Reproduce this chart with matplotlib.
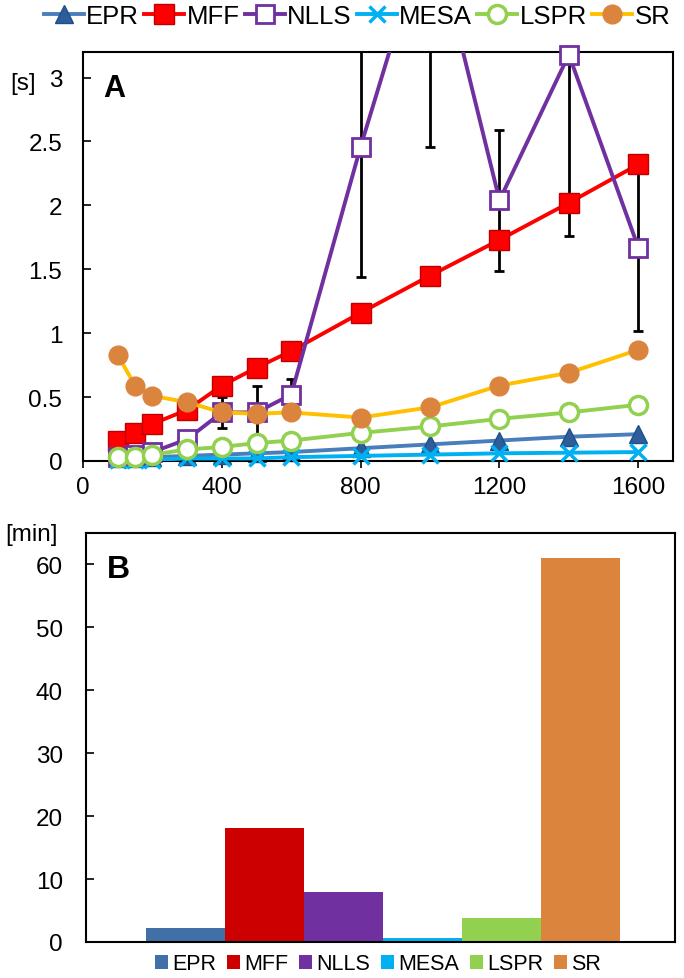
import numpy as np
import matplotlib
matplotlib.use("Agg")
import matplotlib.pyplot as plt
from matplotlib.patches import Patch

plt.rcParams['font.family'] = ['Liberation Sans', 'DejaVu Sans']

# ---------------- data ----------------
sizes = [100, 150, 200, 300, 400, 500, 600, 800, 1000, 1200, 1400, 1600]
methods = ["EPR", "MFF", "NLLS", "MESA", "LSPR", "SR"]

epr = [0.02, 0.02, 0.03, 0.04, 0.05, 0.06, 0.07, 0.10, 0.13, 0.16, 0.19, 0.21]
mff = [0.16, 0.22, 0.29, 0.40, 0.59, 0.73, 0.86, 1.16, 1.45, 1.73, 2.02, 2.32]
nlls = [0.03, 0.05, 0.07, 0.17, 0.38, 0.38, 0.52, 2.46, 4.25, 2.04, 3.18, 1.67]
nlls_err = [0.0, 0.0, 0.0, 0.0, 0.12, 0.21, 0.12, 1.02, 1.79, 0.55, 1.42, 0.65]
mesa = [0.01, 0.01, 0.01, 0.02, 0.02, 0.02, 0.03, 0.04, 0.05, 0.06, 0.065, 0.07]
lspr = [0.03, 0.03, 0.05, 0.09, 0.11, 0.14, 0.16, 0.22, 0.27, 0.33, 0.38, 0.44]
sr = [0.83, 0.59, 0.51, 0.46, 0.38, 0.37, 0.38, 0.34, 0.42, 0.59, 0.69, 0.87]

total_min = [2.2, 18.1, 7.9, 0.6, 3.8, 61.0]

xticks_a = [0, 400, 800, 1200, 1600]
yticks_a = [0, 0.5, 1, 1.5, 2, 2.5, 3]
ytick_labels_a = ["0", "0.5", "1", "1.5", "2", "2.5", "3"]
yticks_b = [0, 10, 20, 30, 40, 50, 60]

# ---------------- styles ----------------
line_colors = ["#4A7EBB", "#FF0000", "#7030A0", "#00B0F0", "#92D050", "#FFC000"]
bar_colors = ["#4170A8", "#CC0000", "#7030A0", "#00B0F0", "#92D050", "#DA843E"]

FS = 17.5

fig = plt.figure(figsize=(6.84, 9.79), dpi=100)
axA = fig.add_axes([83/684, 1-462/979, 590/684, 409/979])
axB = fig.add_axes([86/684, 1-943/979, 589/684, 409/979])

YMAX = 3.2
# error bars (NLLS) underneath
axA.errorbar(sizes, nlls, yerr=nlls_err, fmt='none', ecolor='black',
             elinewidth=2, capsize=3.5, capthick=2, zorder=1)

series = [epr, mff, nlls, mesa, lspr, sr]
styles = [
    dict(marker='^', mfc='#2E5E9A', mec='#1F4E8C', ms=13),
    dict(marker='s', mfc='#FF0000', mec='#C00000', ms=14),
    dict(marker='s', mfc='white', mec='#7030A0', ms=13.5, mew=2),
    dict(marker='x', mfc='#00B0F0', mec='#00B0F0', ms=12, mew=2.5),
    dict(marker='o', mfc='white', mec='#92D050', ms=13, mew=2.5),
    dict(marker='o', mfc='#DA843E', mec='#DA843E', ms=13.5),
]
handles = []
for i, (vals, st) in enumerate(zip(series, styles)):
    z = 2 + i
    axA.plot(sizes, vals, color=line_colors[i], lw=2.8, zorder=z, solid_capstyle='round')
    xs = [x for x, v in zip(sizes, vals) if v <= YMAX + 0.05]
    vs = [v for v in vals if v <= YMAX + 0.05]
    axA.plot(xs, vs, linestyle='none', zorder=z + 0.5, clip_on=False, **st)
    h, = axA.plot([], [], color=line_colors[i], lw=2.8, label=methods[i], **st)
    handles.append(h)

axA.set_xlim(0, 1700)
axA.set_ylim(0, YMAX)
axA.set_xticks(xticks_a)
axA.set_yticks(yticks_a)
axA.set_yticklabels(ytick_labels_a)
axA.tick_params(axis='y', direction='in', length=6, width=1.2, labelsize=FS, pad=15)
axA.tick_params(axis='x', direction='out', length=5, width=1.2, labelsize=FS, pad=6)
for sp in axA.spines.values():
    sp.set_linewidth(1.5)
axA.text(0.035, 0.948, "A", transform=axA.transAxes, fontsize=22, fontweight='bold',
         va='top', ha='left')
fig.text(10/684, 1-84/979, "[s]", fontsize=FS, va='center', ha='left')

fig.legend(handles=handles, loc='center', bbox_to_anchor=(357/684, 1-17/979), ncol=6,
           frameon=False, fontsize=18.5, handlelength=1.55, handletextpad=0.1,
           columnspacing=0.2, borderaxespad=0)

# ---------------- panel B ----------------
xb = np.arange(len(methods))
bars = axB.bar(xb, total_min, width=1.0, color=bar_colors, edgecolor='none', zorder=2)
axB.set_xlim(-1.26, 6.19)
axB.set_ylim(0, 65)
axB.set_xticks([])
axB.set_yticks(yticks_b)
axB.tick_params(axis='y', direction='in', length=6, width=1.2, labelsize=FS, pad=16.5)
for sp in axB.spines.values():
    sp.set_linewidth(1.5)
axB.text(0.035, 0.948, "B", transform=axB.transAxes, fontsize=23, fontweight='bold',
         va='top', ha='left')
fig.text(5/684, 1-535/979, "[min]", fontsize=FS, va='center', ha='left')

bh = [Patch(facecolor=c, edgecolor='none', label=m) for c, m in zip(bar_colors, methods)]
fig.legend(handles=bh, loc='center', bbox_to_anchor=(378/684, 1-965/979), ncol=6,
           frameon=False, fontsize=15.5, handlelength=0.6, handleheight=0.6,
           handletextpad=0.2, columnspacing=0.5, borderaxespad=0)

fig.savefig("out.png", dpi=100)
